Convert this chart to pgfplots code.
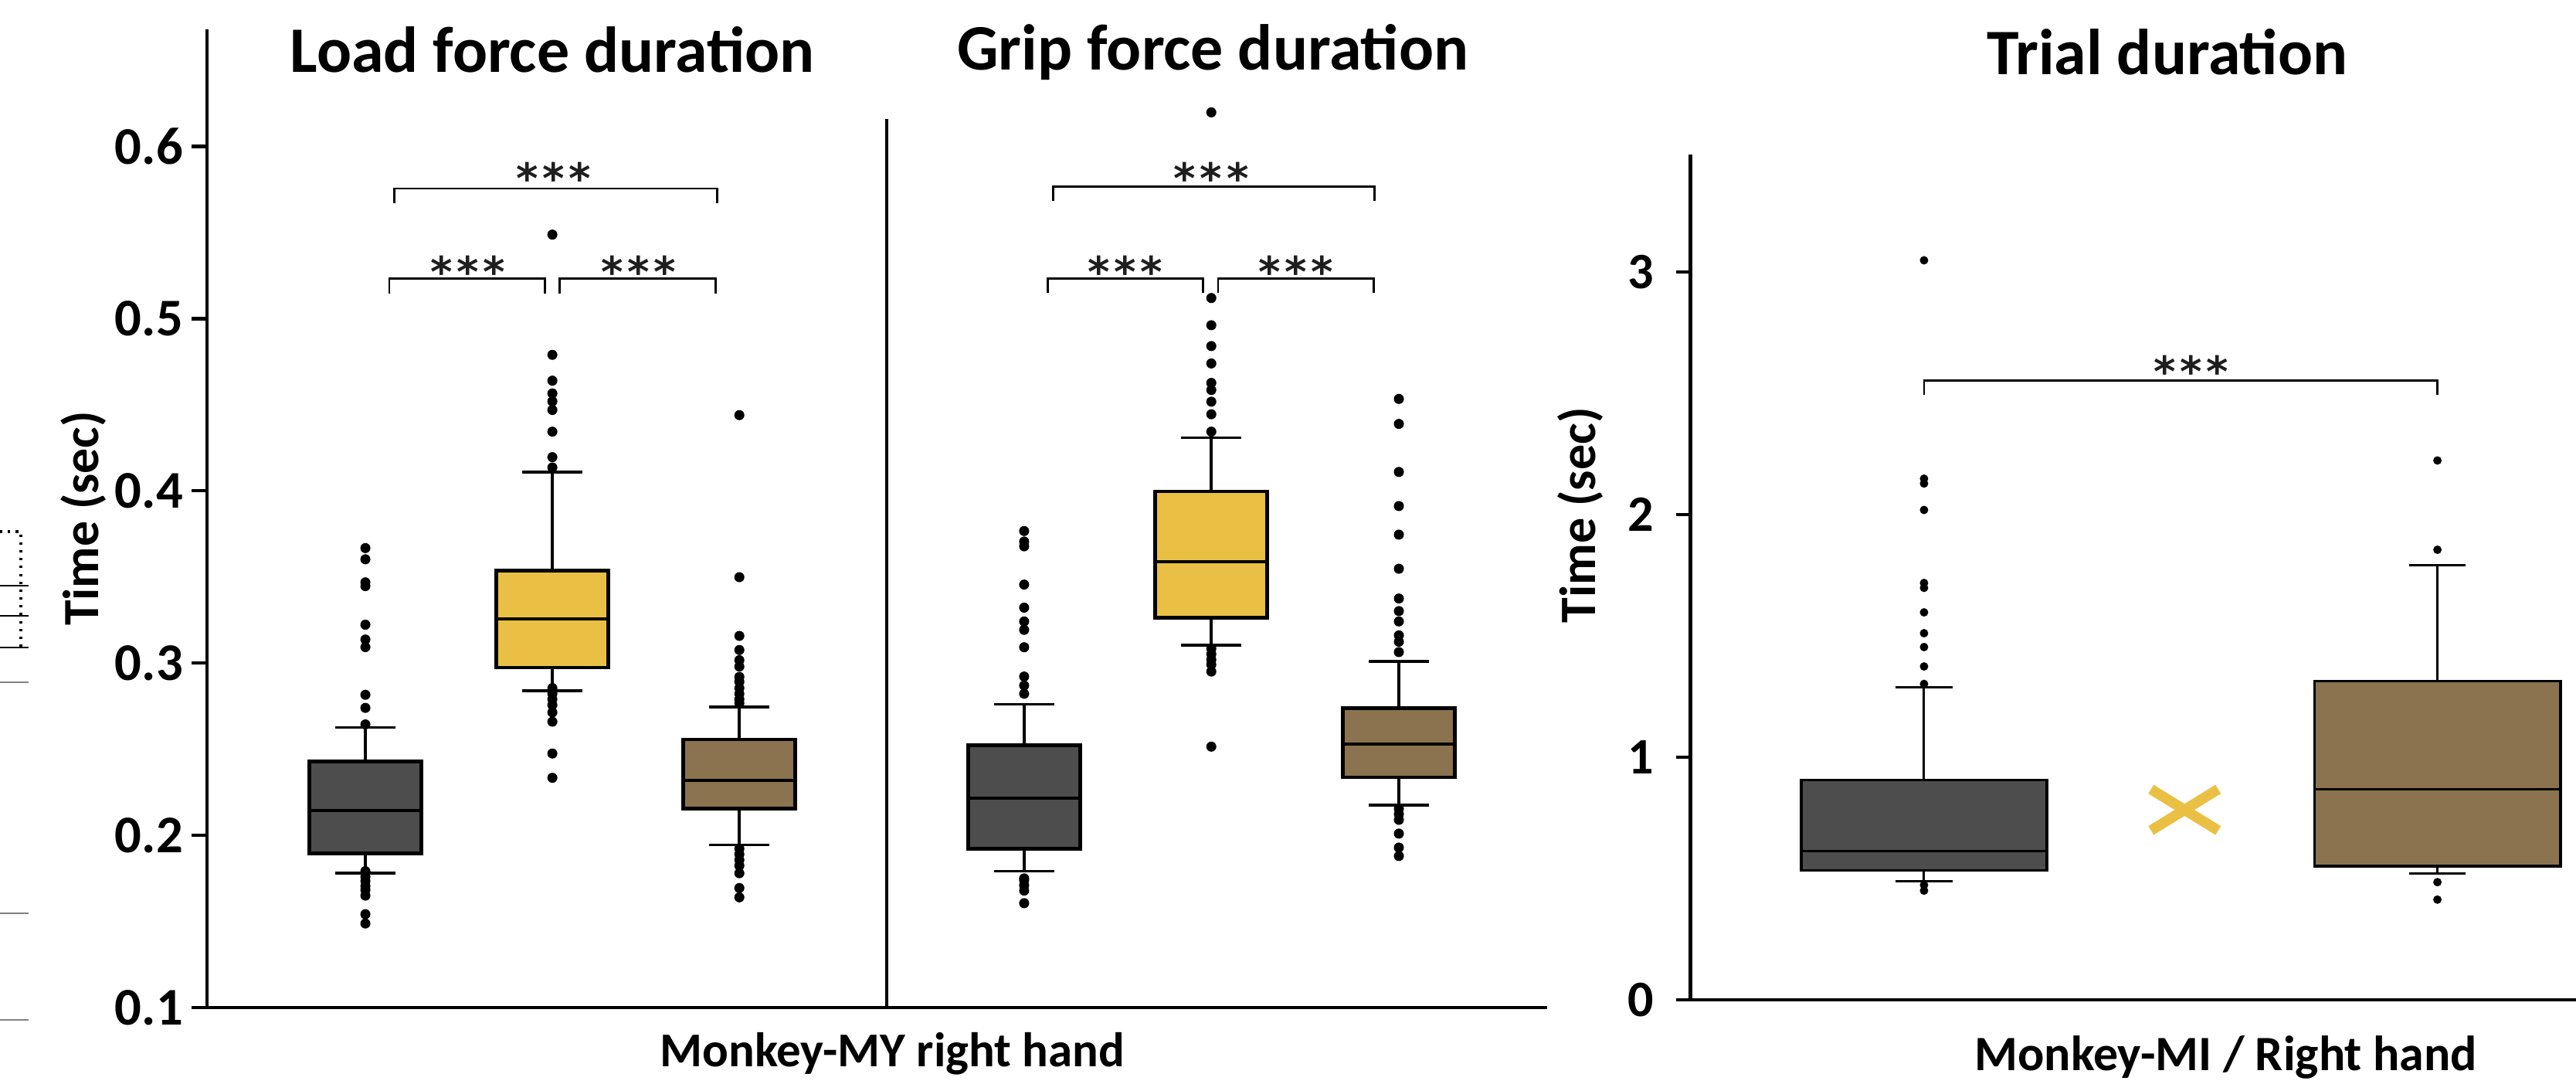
\documentclass[border=0pt]{standalone}
\usepackage{fontspec}
\setmainfont{Carlito}
\newfontfamily\starff{DejaVu Sans}
\usepackage{pgfplots}
\pgfplotsset{compat=1.18}
\usepgfplotslibrary{statistics}
\definecolor{cdark}{HTML}{4D4D4D}
\definecolor{cyel}{HTML}{EAC044}
\definecolor{cbrn}{HTML}{8B7350}
\definecolor{cstar}{HTML}{1E1E1E}
\pgfplotsset{
  boxA/.style={
    boxplot/draw direction=y,
    boxplot/every box/.style={draw=black, line width=1.4pt},
    boxplot/every whisker/.style={draw=black, line width=1.0pt},
    boxplot/every median/.style={draw=black, line width=1.1pt},
    mark=*, mark size=1.7pt, mark options={solid, fill=black, draw=black, line width=0.3pt},
  },
  boxB/.style={
    boxplot/draw direction=y,
    boxplot/every box/.style={draw=black, line width=1.0pt},
    boxplot/every whisker/.style={draw=black, line width=0.85pt},
    boxplot/every median/.style={draw=black, line width=0.85pt},
    mark=*, mark size=1.4pt, mark options={solid, fill=black, draw=black, line width=0.3pt},
  },
  brk/.style={black, line width=0.8pt, mark=none, sharp plot},
}
\newcommand{\starfont}{\fontsize{15.5}{18}\selectfont\starff\bfseries}
\newcommand{\stars}{*\kern1.6pt*\kern1.6pt*}
\begin{document}
\begin{tikzpicture}[x=1cm,y=1cm]
\useasboundingbox (0,0) rectangle (33.35,14.12);
% cropped remains of a neighbouring figure at the left edge
\draw[black, line width=0.9pt, dotted] (0,7.24) -- (0.27,7.24) -- (0.27,5.74);
\foreach \yy in {6.54,6.15,5.74} {\draw[black, line width=0.8pt] (0,\yy) -- (0.37,\yy);}
\foreach \yy in {5.29,2.30,0.92} {\draw[gray, line width=0.4pt] (0,\yy) -- (0.37,\yy);}

\begin{axis}[
  at={(2.68cm,1.08cm)}, anchor=south west, scale only axis,
  width=17.35cm, height=12.66cm,
  xmin=0.153, xmax=7.32, ymin=0.1, ymax=0.668,
  axis x line=bottom, axis y line=left,
  axis line style={line width=1.2pt, -},
  xtick=\empty,
  ytick={0.1,0.2,0.3,0.4,0.5,0.6},
  yticklabels={0.1,0.2,0.3,0.4,0.5,0.6},
  yticklabel style={font=\fontsize{19.5}{22}\selectfont\bfseries, inner sep=1pt, xshift=-2pt},
  tick align=outside, major tick length=0.2cm,
  tick style={line width=1.2pt, black},
  clip=false,
]
% Load force duration
\addplot[boxA, fill=cdark, boxplot prepared={draw position=1, median=0.2145, upper quartile=0.2427, lower quartile=0.1894, upper whisker=0.2627, lower whisker=0.178, box extend=0.6, whisker extend=0.32}]
 coordinates {(0,0.3668)(0,0.3603)(0,0.3469)(0,0.3447)(0,0.3223)(0,0.3137)(0,0.3093)(0,0.2816)(0,0.274)(0,0.2644)
 (0,0.1792)(0,0.176)(0,0.1735)(0,0.1705)(0,0.1683)(0,0.165)(0,0.1542)(0,0.1488)};
\addplot[boxA, fill=cyel, boxplot prepared={draw position=2, median=0.3256, upper quartile=0.3538, lower quartile=0.2974, upper whisker=0.411, lower whisker=0.2839, box extend=0.6, whisker extend=0.32}]
 coordinates {(0,0.5488)(0,0.479)(0,0.464)(0,0.4566)(0,0.452)(0,0.447)(0,0.4344)(0,0.4196)(0,0.4136)
 (0,0.2855)(0,0.2822)(0,0.279)(0,0.2757)(0,0.2714)(0,0.266)(0,0.2475)(0,0.2334)};
\addplot[boxA, fill=cbrn, boxplot prepared={draw position=3, median=0.2319, upper quartile=0.2557, lower quartile=0.2154, upper whisker=0.2746, lower whisker=0.1944, box extend=0.6, whisker extend=0.32}]
 coordinates {(0,0.444)(0,0.3499)(0,0.3158)(0,0.3076)(0,0.3017)(0,0.298)(0,0.292)(0,0.2892)(0,0.2855)(0,0.2822)(0,0.279)(0,0.2768)
 (0,0.1922)(0,0.189)(0,0.1857)(0,0.1824)(0,0.178)(0,0.1694)(0,0.164)};
% Grip force duration
\addplot[boxA, fill=cdark, boxplot prepared={draw position=4.523, median=0.2216, upper quartile=0.2523, lower quartile=0.1921, upper whisker=0.2761, lower whisker=0.1792, box extend=0.6, whisker extend=0.32}]
 coordinates {(0,0.3767)(0,0.3706)(0,0.3678)(0,0.3456)(0,0.3322)(0,0.3242)(0,0.3193)(0,0.3092)(0,0.2922)(0,0.287)(0,0.2822)
 (0,0.175)(0,0.174)(0,0.171)(0,0.1679)(0,0.1606)};
\addplot[boxA, fill=cyel, boxplot prepared={draw position=5.524, median=0.3589, upper quartile=0.3997, lower quartile=0.3262, upper whisker=0.4308, lower whisker=0.3104, box extend=0.6, whisker extend=0.32}]
 coordinates {(0,0.6198)(0,0.512)(0,0.4962)(0,0.4841)(0,0.474)(0,0.4627)(0,0.4586)(0,0.4518)(0,0.4445)(0,0.4344)
 (0,0.3084)(0,0.3052)(0,0.302)(0,0.2991)(0,0.2951)(0,0.2515)};
\addplot[boxA, fill=cbrn, boxplot prepared={draw position=6.527, median=0.2531, upper quartile=0.2737, lower quartile=0.2337, upper whisker=0.3011, lower whisker=0.2175, box extend=0.6, whisker extend=0.32}]
 coordinates {(0,0.4534)(0,0.4389)(0,0.411)(0,0.3912)(0,0.3746)(0,0.3548)(0,0.3375)(0,0.3302)(0,0.3242)(0,0.3161)(0,0.3124)(0,0.3064)
 (0,0.2155)(0,0.2123)(0,0.209)(0,0.201)(0,0.1929)(0,0.188)};
% divider
\addplot[black, line width=1.2pt, mark=none] coordinates {(3.789,0.1)(3.789,0.616)};
% brackets
\addplot[brk] coordinates {(1.156,0.567)(1.156,0.5756)(2.883,0.5756)(2.883,0.567)};
\addplot[brk] coordinates {(1.128,0.5144)(1.128,0.5234)(1.959,0.5234)(1.959,0.5144)};
\addplot[brk] coordinates {(2.040,0.5144)(2.040,0.5234)(2.872,0.5234)(2.872,0.5144)};
\addplot[brk] coordinates {(4.678,0.5685)(4.678,0.5766)(6.397,0.5766)(6.397,0.5685)};
\addplot[brk] coordinates {(4.649,0.515)(4.649,0.5233)(5.481,0.5233)(5.481,0.515)};
\addplot[brk] coordinates {(5.560,0.515)(5.560,0.5233)(6.394,0.5233)(6.394,0.515)};
\node[anchor=north, inner sep=0pt, text=cstar, font=\starfont] at (axis cs:2.008,0.5913) {\stars};
\node[anchor=north, inner sep=0pt, text=cstar, font=\starfont] at (axis cs:1.548,0.537) {\stars};
\node[anchor=north, inner sep=0pt, text=cstar, font=\starfont] at (axis cs:2.461,0.537) {\stars};
\node[anchor=north, inner sep=0pt, text=cstar, font=\starfont] at (axis cs:5.524,0.5913) {\stars};
\node[anchor=north, inner sep=0pt, text=cstar, font=\starfont] at (axis cs:5.062,0.537) {\stars};
\node[anchor=north, inner sep=0pt, text=cstar, font=\starfont] at (axis cs:5.975,0.537) {\stars};
% titles and labels
\node[anchor=base, inner sep=0pt, font=\fontsize{23.9}{28}\selectfont\bfseries] at (axis cs:2,0.6433) {Load force duration};
\node[anchor=base, inner sep=0pt, font=\fontsize{23.9}{28}\selectfont\bfseries] at (axis cs:5.533,0.6446) {Grip force duration};
\node[anchor=base, inner sep=0pt, font=\fontsize{17.9}{21}\selectfont\bfseries] at (axis cs:3.818,0.0659) {Monkey-MY right hand};
\node[rotate=90, inner sep=0pt, font=\fontsize{18.7}{22}\selectfont\bfseries] at (axis cs:-0.508,0.384) {Time (sec)};
\end{axis}

\begin{axis}[
  at={(21.885cm,1.18cm)}, anchor=south west, scale only axis,
  width=11.465cm, height=10.94cm,
  xmin=0.09, xmax=3.54, ymin=0, ymax=3.484,
  axis x line=bottom, axis y line=left,
  axis line style={line width=1.2pt, -},
  xtick=\empty,
  ytick={0,1,2,3},
  yticklabels={0,1,2,3},
  yticklabel style={font=\fontsize{18.8}{21}\selectfont\bfseries, inner sep=1pt, xshift=-7pt},
  tick align=outside, major tick length=0.19cm,
  tick style={line width=1.2pt, black},
  clip=false,
]
\addplot[boxB, fill=cdark, boxplot prepared={draw position=1, median=0.614, upper quartile=0.906, lower quartile=0.533, upper whisker=1.288, lower whisker=0.4875, box extend=0.958, whisker extend=0.22}]
 coordinates {(0,3.048)(0,2.148)(0,2.128)(0,2.019)(0,1.718)(0,1.698)(0,1.597)(0,1.511)(0,1.454)(0,1.374)(0,1.302)(0,0.473)(0,0.450)};
\addplot[boxB, fill=cbrn, boxplot prepared={draw position=3, median=0.869, upper quartile=1.313, lower quartile=0.551, upper whisker=1.792, lower whisker=0.522, box extend=0.958, whisker extend=0.22}]
 coordinates {(0,2.223)(0,1.855)(0,0.485)(0,0.413)};
\addplot[only marks, mark=x, mark size=0.615cm, color=cyel, mark options={yscale=0.614, line width=3.8pt}] coordinates {(2.015,0.783)};
\addplot[brk] coordinates {(1,2.492)(1,2.552)(3,2.552)(3,2.492)};
\node[anchor=north, inner sep=0pt, text=cstar, font=\starfont] at (axis cs:2.04,2.658) {\stars};
\node[anchor=base, inner sep=0pt, font=\fontsize{23.9}{28}\selectfont\bfseries] at (axis cs:1.947,3.812) {Trial duration};
\node[anchor=base, inner sep=0pt, font=\fontsize{18.2}{21}\selectfont\bfseries] at (axis cs:2.176,-0.29) {Monkey-MI / Right hand};
\node[rotate=90, inner sep=0pt, font=\fontsize{18.8}{22}\selectfont\bfseries] at (axis cs:-0.339,1.997) {Time (sec)};
\end{axis}
\end{tikzpicture}
\end{document}
